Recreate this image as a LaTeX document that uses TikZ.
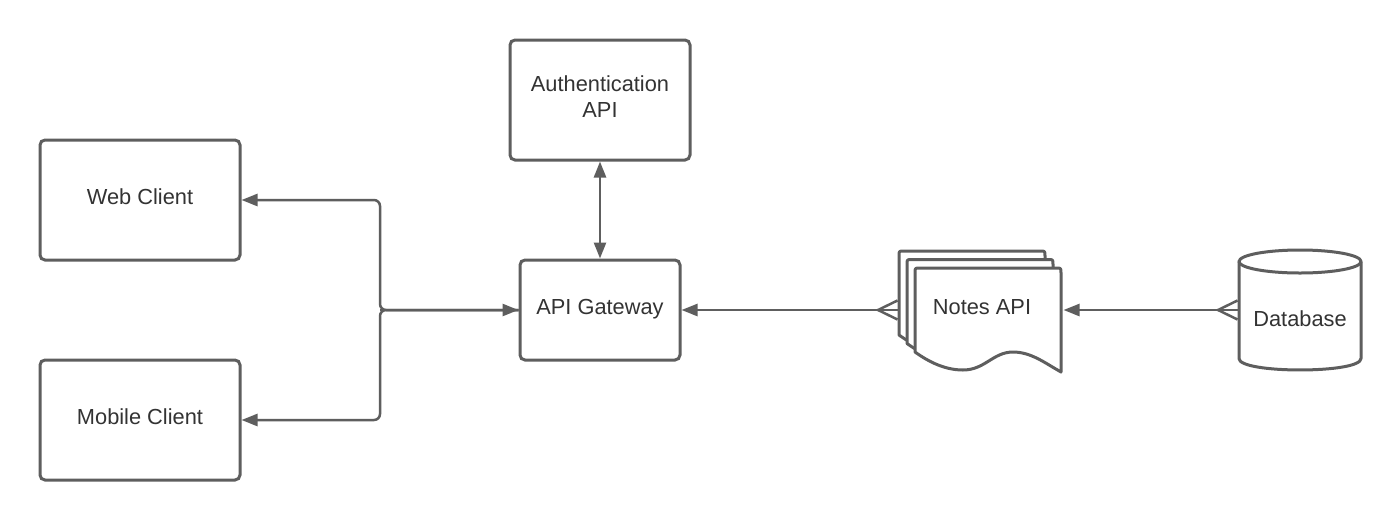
\documentclass[tikz,border=0pt]{standalone}
\usepackage{fontspec}
\setmainfont{Liberation Sans}
\usetikzlibrary{arrows.meta,calc}

\definecolor{linegray}{HTML}{5E5E5E}
\definecolor{txtgray}{HTML}{333333}

% one sheet of the stacked document shape, top-left corner at (#1,#2)
\newcommand\docsheet[2]{%
  \filldraw[sheet] (#1,#2+84) -- (#1,#2+5) .. controls (#1,#2) .. (#1+5,#2)
    -- (#1+141,#2) .. controls (#1+146,#2) .. (#1+146,#2+5)
    -- (#1+146,#2+104)
    .. controls (#1+130,#2+95) and (#1+116,#2+84) .. (#1+98,#2+84)
    .. controls (#1+78,#2+84) and (#1+70,#2+102) .. (#1+48,#2+102)
    .. controls (#1+30,#2+102) and (#1+14,#2+94) .. cycle;%
}

\begin{document}
\begin{tikzpicture}[x=1pt,y=-1pt,
  box/.style={draw=linegray, line width=3pt, rounded corners=5pt, fill=white,
    inner sep=0pt, outer sep=1.5pt},
  sheet/.style={draw=linegray, fill=white, line width=3pt, line join=round},
  ghost/.style={inner sep=0pt, outer sep=0pt},
  lbl/.style={text=txtgray, font=\fontsize{21.8}{26}\selectfont, anchor=base,
    inner sep=0pt, align=center},
  conn/.style={draw=linegray, line width=2.5pt},
  tip/.style={-{Triangle[length=16pt,width=12pt]}},
  tips/.style={{Triangle[length=16pt,width=12pt]}-{Triangle[length=16pt,width=12pt]}}
]
\path[use as bounding box, fill=white] (0,0) rectangle (1400,520);

% boxes
\node[box, minimum width=200pt, minimum height=120pt] (web) at (140,200) {};
\node[box, minimum width=200pt, minimum height=120pt] (mobile) at (140,420) {};
\node[box, minimum width=180pt, minimum height=120pt] (auth) at (600,100) {};
\node[box, minimum width=160pt, minimum height=100pt] (gw) at (600,310) {};

\node[lbl] (webl) at (140,204) {Web Client};
\node[lbl] (mobl) at (140,424) {Mobile Client};
\node[lbl] (authl) at (600,117) {Authentication\\API};
\node[lbl] (gwl) at (600,314.5) {API Gateway};

% stacked documents
\docsheet{899}{251}
\docsheet{907}{259.5}
\docsheet{915}{268}
\node[ghost, minimum width=166pt, minimum height=118pt] (notes) at (980.5,310) {};
\node[lbl] (notesl) at (982,314) {Notes API};

% database cylinder
\filldraw[sheet] (1239,261.5) -- (1239,358.5)
  .. controls (1239,373.8) and (1361,373.8) .. (1361,358.5) -- (1361,261.5);
\draw[sheet] (1300,261.5) ellipse [x radius=61, y radius=11.5];
\node[ghost, minimum width=125pt, minimum height=120pt] (db) at (1300,310) {};
\node[lbl] (dbl) at (1300,326) {Database};

% connectors
\coordinate (j) at (380,310);
\draw[conn, tip] (j) -- (gw.west);
\draw[conn, tip, rounded corners=6pt] (gw.west) -- (j) |- (web.east);
\draw[conn, tip, rounded corners=6pt] (gw.west) -- (j) |- (mobile.east);
\draw[conn, tips] (auth.south) -- (gw.north);
\draw[conn, tip] (notes.west) -- (gw.east);
\draw[conn, tip] (db.west) -- (notes.east);

% crow's feet
\draw[conn] ($(notes.west)+(0,-9.5)$) -- ($(notes.west)+(-19.5,0)$) -- ($(notes.west)+(0,9.5)$);
\draw[conn] ($(db.west)+(0,-9.5)$) -- ($(db.west)+(-19.5,0)$) -- ($(db.west)+(0,9.5)$);
\end{tikzpicture}
\end{document}
